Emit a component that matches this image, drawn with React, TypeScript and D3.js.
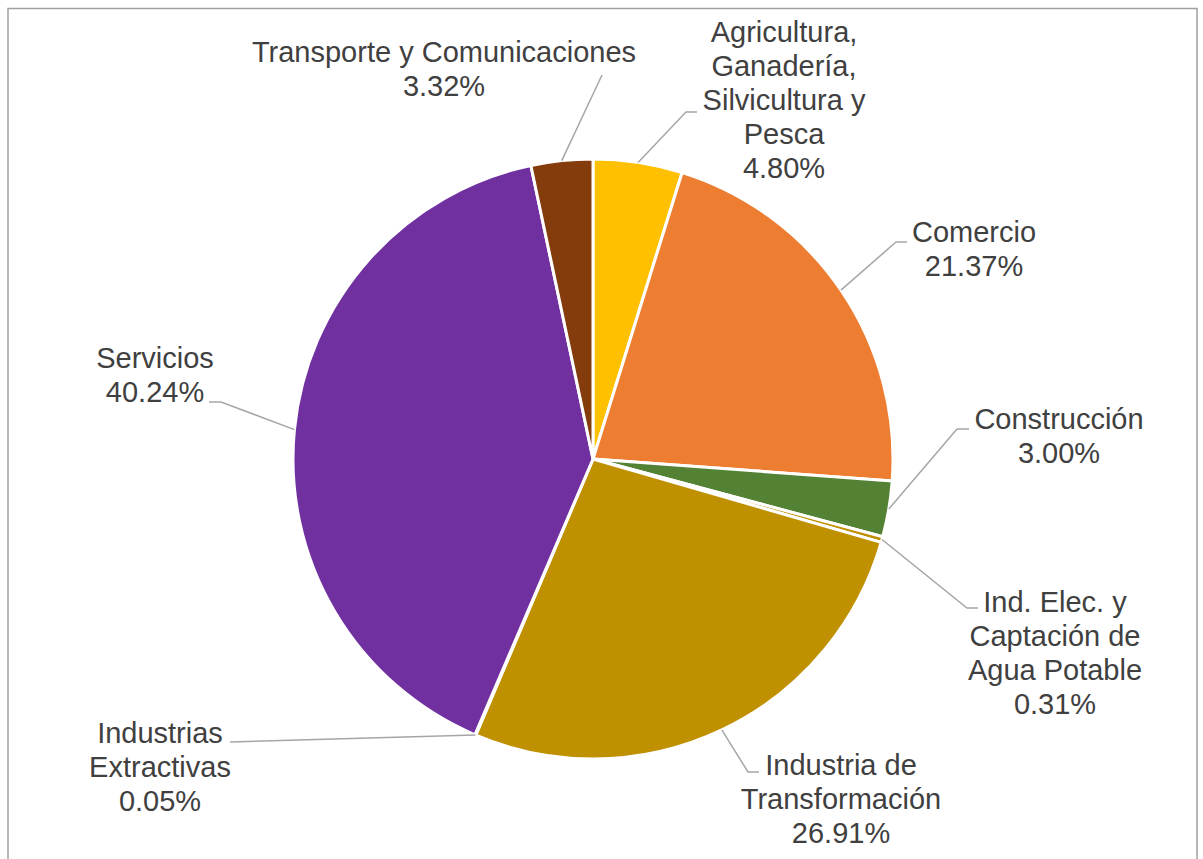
import React from "react";
import * as d3 from "d3";

const categories = [
  "Agricultura, Ganadería, Silvicultura y Pesca",
  "Comercio",
  "Construcción",
  "Ind. Elec. y Captación de Agua Potable",
  "Industria de Transformación",
  "Industrias Extractivas",
  "Servicios",
  "Transporte y Comunicaciones",
];
const values = [4.8, 21.37, 3.0, 0.31, 26.91, 0.05, 40.24, 3.32];
const valueLabels = ["4.80%", "21.37%", "3.00%", "0.31%", "26.91%", "0.05%", "40.24%", "3.32%"];
const labelLines = [
  ["Agricultura,", "Ganadería,", "Silvicultura y", "Pesca"],
  ["Comercio"],
  ["Construcción"],
  ["Ind. Elec. y", "Captación de", "Agua Potable"],
  ["Industria de", "Transformación"],
  ["Industrias", "Extractivas"],
  ["Servicios"],
  ["Transporte y Comunicaciones"],
];
const colors = ["#FFC000", "#ED7D31", "#548235", "#BF8F00", "#BF9000", "#A5A5A5", "#7030A0", "#843C0C"];

// layout: label centre x, first baseline y, elbow point, leader end x
const layout = [
  { cx: 784, by: 42, ex: 686, ey: 112, lx: 697 },
  { cx: 974, by: 242, ex: 896, ey: 242, lx: 907 },
  { cx: 1059, by: 429, ex: 957, ey: 429, lx: 969 },
  { cx: 1055, by: 612, ex: 967, ey: 608, lx: 978 },
  { cx: 841, by: 775, ex: 748, ey: 772, lx: 759 },
  { cx: 160, by: 743, ex: 230, ey: 742, lx: 230 },
  { cx: 155, by: 368, ex: 221, ey: 402, lx: 209 },
  { cx: 444, by: 62, ex: 602, ey: 75, lx: 602 },
];

const W = 1203;
const H = 859;
const CX = 593;
const CY = 459;
const R = 300;
const LINE_H = 34;

export default function App() {
  const pie = d3.pie<number>().sort(null).value((d) => d)(values);
  const arc = d3.arc<d3.PieArcDatum<number>>().innerRadius(0).outerRadius(R);

  return (
    <svg
      width={W}
      height={H}
      style={{ position: "absolute", left: 0, top: 0, background: "#fff" }}
      fontFamily="'Liberation Sans', Arial, sans-serif"
    >
      <rect x={8} y={8.5} width={1189} height={H} fill="#fff" stroke="#A0A0A0" strokeWidth={1.5} />
      <g transform={`translate(${CX},${CY})`}>
        {pie.map((p, i) => (
          <path key={i} d={arc(p) || ""} fill={colors[i]} stroke="#fff" strokeWidth={3} strokeLinejoin="round" />
        ))}
      </g>
      {pie.map((p, i) => {
        const mid = (p.startAngle + p.endAngle) / 2;
        const sx = CX + R * Math.sin(mid);
        const sy = CY - R * Math.cos(mid);
        const L = layout[i];
        return (
          <polyline
            key={"l" + i}
            points={`${sx},${sy} ${L.ex},${L.ey} ${L.lx},${L.ey}`}
            fill="none"
            stroke="#A6A6A6"
            strokeWidth={1.5}
          />
        );
      })}
      {categories.map((c, i) => {
        const L = layout[i];
        const lines = [...labelLines[i], valueLabels[i]];
        return (
          <text key={"t" + i} x={L.cx} y={L.by} textAnchor="middle" fontSize={29} fill="#404040">
            {lines.map((ln, j) => (
              <tspan key={j} x={L.cx} y={L.by + j * LINE_H}>
                {ln}
              </tspan>
            ))}
          </text>
        );
      })}
    </svg>
  );
}
